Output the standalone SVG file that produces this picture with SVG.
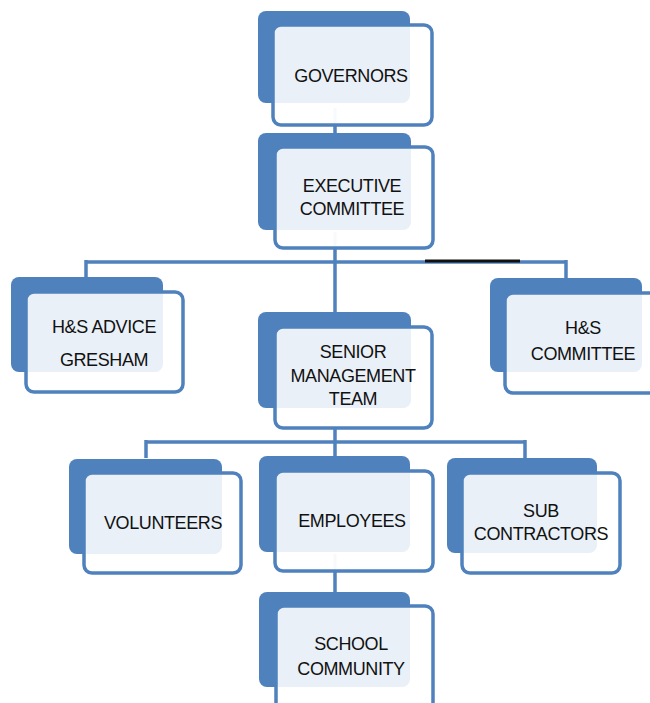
<svg xmlns="http://www.w3.org/2000/svg" width="650" height="703" viewBox="0 0 650 703">
<style>
.bk{fill:#4f81bd;}
.fr{fill:#ffffff;fill-opacity:0.88;stroke:#4f81bd;stroke-width:3.5;}
.t{font-family:"Liberation Sans",Arial,sans-serif;font-size:18px;letter-spacing:-0.4px;fill:#111;text-anchor:middle;}
.c{stroke:#4f81bd;stroke-width:3.5;fill:none;}
.cf{stroke:#b8c9e0;stroke-width:3;fill:none;}
</style>
<g id="connectors">
<line class="c" x1="335" y1="248" x2="335" y2="312"/>
<line class="c" x1="86" y1="262" x2="566" y2="262"/>
<line x1="425" y1="261" x2="520" y2="261" stroke="#111" stroke-width="3"/>
<line class="c" x1="86" y1="260" x2="86" y2="279"/>
<line class="c" x1="566" y1="260" x2="566" y2="279"/>
<line class="c" x1="335" y1="428" x2="335" y2="456"/>
<line class="c" x1="146" y1="442" x2="525" y2="442"/>
<line class="c" x1="146" y1="440" x2="146" y2="458"/>
<line class="c" x1="525" y1="440" x2="525" y2="458"/>
<line class="c" x1="335" y1="571" x2="335" y2="592"/>
<line class="c" x1="335" y1="126" x2="335" y2="133"/>
</g>
<g id="governors">
<rect class="bk" x="258" y="11" width="152" height="92" rx="8"/>
<line class="cf" x1="335" y1="108" x2="335" y2="126"/>
<rect class="fr" x="273" y="25" width="159" height="100" rx="8"/>
<text class="t" x="351" y="82">GOVERNORS</text>
</g>
<g id="executive">
<rect class="bk" x="258" y="133" width="153" height="97" rx="8"/>
<line class="cf" x1="335" y1="232" x2="335" y2="248"/>
<rect class="fr" x="275" y="147" width="158" height="101" rx="8"/>
<text class="t" x="352" y="192">EXECUTIVE</text>
<text class="t" x="352" y="215">COMMITTEE</text>
</g>
<g id="hs-advice">
<rect class="bk" x="11" y="277" width="152" height="95" rx="8"/>
<rect class="fr" x="26" y="292" width="157" height="100" rx="8"/>
<text class="t" x="104" y="333">H&amp;S ADVICE</text>
<text class="t" x="104" y="366">GRESHAM</text>
</g>
<g id="smt">
<rect class="bk" x="258" y="312" width="153" height="96" rx="8"/>
<rect class="fr" x="275" y="327" width="157" height="101" rx="8"/>
<text class="t" x="353" y="358">SENIOR</text>
<text class="t" x="353" y="382">MANAGEMENT</text>
<text class="t" x="353" y="405">TEAM</text>
</g>
<g id="hs-committee">
<rect class="bk" x="490" y="278" width="152" height="94" rx="8"/>
<rect class="fr" x="505" y="293" width="158" height="100" rx="8"/>
<text class="t" x="583" y="334">H&amp;S</text>
<text class="t" x="583" y="360">COMMITTEE</text>
</g>
<g id="volunteers">
<rect class="bk" x="69" y="459" width="153" height="95" rx="8"/>
<rect class="fr" x="84" y="473" width="157" height="100" rx="8"/>
<text class="t" x="163" y="529">VOLUNTEERS</text>
</g>
<g id="employees">
<rect class="bk" x="259" y="456" width="151" height="96" rx="8"/>
<line class="cf" x1="335" y1="554" x2="335" y2="571"/>
<rect class="fr" x="275" y="471" width="158" height="100" rx="8"/>
<text class="t" x="352" y="527">EMPLOYEES</text>
</g>
<g id="subcontractors">
<rect class="bk" x="447" y="458" width="150" height="95" rx="8"/>
<rect class="fr" x="462" y="473" width="158" height="100" rx="8"/>
<text class="t" x="541" y="517">SUB</text>
<text class="t" x="541" y="540">CONTRACTORS</text>
</g>
<g id="school">
<rect class="bk" x="259" y="592" width="151" height="95" rx="8"/>
<rect class="fr" x="276" y="606" width="157" height="105" rx="8"/>
<text class="t" x="351" y="650">SCHOOL</text>
<text class="t" x="351" y="675">COMMUNITY</text>
</g>
</svg>
